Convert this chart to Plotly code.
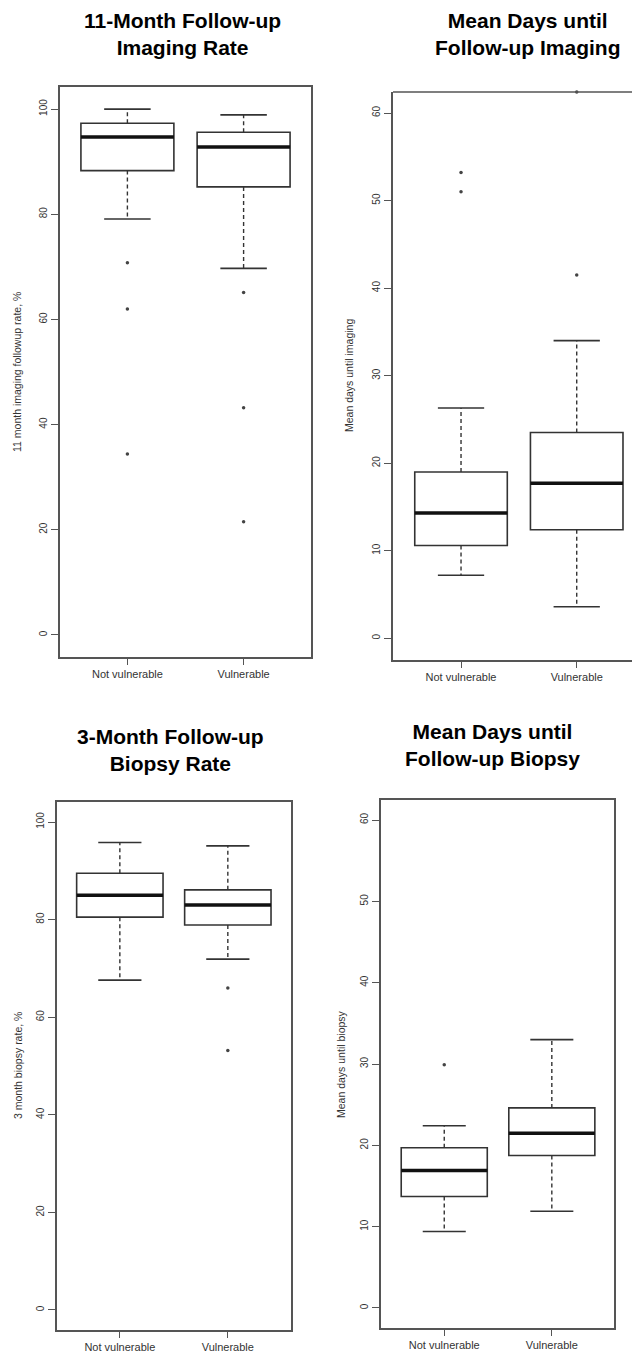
import plotly.graph_objects as go

# the page body adds an 8px margin, so pixel positions are shifted by OFF
OFF = 8
W, H = 640 - OFF, 1359 - OFF

categories = ["Not vulnerable", "Vulnerable"]
cat_pos = [1, 2]

# Panel 1: 11-month follow-up imaging rate (%)
img_rate_lower = [79.1, 69.7]
img_rate_q1 = [88.3, 85.2]
img_rate_median = [94.7, 92.8]
img_rate_q3 = [97.3, 95.6]
img_rate_upper = [100.0, 98.9]
img_rate_out_nv = [70.8, 62.0, 34.4]
img_rate_out_v = [65.1, 43.2, 21.5]

# Panel 2: mean days until follow-up imaging
img_days_lower = [7.2, 3.6]
img_days_q1 = [10.6, 12.4]
img_days_median = [14.3, 17.7]
img_days_q3 = [19.0, 23.5]
img_days_upper = [26.3, 34.0]
img_days_out_nv = [53.2, 51.0]
img_days_out_v = [41.5, 62.4]

# Panel 3: 3-month follow-up biopsy rate (%)
bx_rate_lower = [67.6, 71.9]
bx_rate_q1 = [80.5, 78.9]
bx_rate_median = [85.0, 83.0]
bx_rate_q3 = [89.5, 86.1]
bx_rate_upper = [95.8, 95.1]
bx_rate_out_nv = []
bx_rate_out_v = [66.0, 53.2]

# Panel 4: mean days until follow-up biopsy
bx_days_lower = [9.4, 11.9]
bx_days_q1 = [13.7, 18.75]
bx_days_median = [16.9, 21.5]
bx_days_q3 = [19.7, 24.6]
bx_days_upper = [22.4, 33.0]
bx_days_out_nv = [29.9]
bx_days_out_v = []

titles = ["11-Month Follow-up<br>Imaging Rate", "Mean Days until<br>Follow-up Imaging",
          "3-Month Follow-up<br>Biopsy Rate", "Mean Days until<br>Follow-up Biopsy"]
ytitles = ["11 month imaging followup rate, %", "Mean days until imaging",
           "3 month biopsy rate, %", "Mean days until biopsy"]
yticks_rate = [0, 20, 40, 60, 80, 100]
yticks_days = [0, 10, 20, 30, 40, 50, 60]

panels = [
    dict(lower=img_rate_lower, q1=img_rate_q1, med=img_rate_median, q3=img_rate_q3, upper=img_rate_upper,
         out=[img_rate_out_nv, img_rate_out_v], ticks=yticks_rate,
         px=(60, 311), py=(87, 657), xr=[0.42, 2.58], yr=[-4.2, 104.2],
         title_xy=(183, 34), ytitle_x=17, clip_right=False),
    dict(lower=img_days_lower, q1=img_days_q1, med=img_days_median, q3=img_days_q3, upper=img_days_upper,
         out=[img_days_out_nv, img_days_out_v], ticks=yticks_days,
         px=(393, 640), py=(92, 660), xr=[0.412, 2.547], yr=[-2.48, 62.4],
         title_xy=(527, 34), ytitle_x=349, clip_right=True),
    dict(lower=bx_rate_lower, q1=bx_rate_q1, med=bx_rate_median, q3=bx_rate_q3, upper=bx_rate_upper,
         out=[bx_rate_out_nv, bx_rate_out_v], ticks=yticks_rate,
         px=(57, 291), py=(802, 1330), xr=[0.418, 2.585], yr=[-4.1, 104.1],
         title_xy=(170, 750), ytitle_x=18, clip_right=False),
    dict(lower=bx_days_lower, q1=bx_days_q1, med=bx_days_median, q3=bx_days_q3, upper=bx_days_upper,
         out=[bx_days_out_nv, bx_days_out_v], ticks=yticks_days,
         px=(381, 614), py=(800, 1328), xr=[0.412, 2.578], yr=[-2.46, 62.46],
         title_xy=(492, 745), ytitle_x=341, clip_right=False),
]

LINE = "#333333"
FRAME = "#555555"
BOX_W = 0.8
CAP_HALF = 0.2

fig = go.Figure()
layout = dict(width=W, height=H, margin=dict(l=0, r=0, t=0, b=0),
              paper_bgcolor="white", plot_bgcolor="white", showlegend=False,
              font=dict(family="Liberation Sans, Arial, sans-serif", color="#333333"))
annotations = []
shapes = []


def fx(px):
    return (px - OFF) / W


def fy(py):
    return 1 - (py - OFF) / H


for i, p in enumerate(panels):
    n = i + 1
    xa = "x" if n == 1 else f"x{n}"
    ya = "y" if n == 1 else f"y{n}"
    xkey = "xaxis" if n == 1 else f"xaxis{n}"
    ykey = "yaxis" if n == 1 else f"yaxis{n}"

    # box body (whiskers drawn separately, dashed)
    fig.add_trace(go.Box(x=cat_pos, q1=p["q1"], median=p["med"], q3=p["q3"],
                         lowerfence=p["q1"], upperfence=p["q3"], width=BOX_W,
                         fillcolor="white", line=dict(color=LINE, width=1.6),
                         boxpoints=False, hoverinfo="skip", xaxis=xa, yaxis=ya))
    # dashed whiskers
    wx, wy = [], []
    for c, lo, q1, q3, up in zip(cat_pos, p["lower"], p["q1"], p["q3"], p["upper"]):
        wx += [c, c, None, c, c, None]
        wy += [q3, up, None, q1, lo, None]
    fig.add_trace(go.Scatter(x=wx, y=wy, mode="lines", line=dict(color=LINE, width=1.4, dash="4px,3px"),
                             hoverinfo="skip", xaxis=xa, yaxis=ya))
    # caps
    cx, cy = [], []
    for c, lo, up in zip(cat_pos, p["lower"], p["upper"]):
        cx += [c - CAP_HALF, c + CAP_HALF, None, c - CAP_HALF, c + CAP_HALF, None]
        cy += [up, up, None, lo, lo, None]
    fig.add_trace(go.Scatter(x=cx, y=cy, mode="lines", line=dict(color=LINE, width=1.6),
                             hoverinfo="skip", xaxis=xa, yaxis=ya))
    # thick medians
    mx, my = [], []
    for c, m in zip(cat_pos, p["med"]):
        mx += [c - BOX_W / 2, c + BOX_W / 2, None]
        my += [m, m, None]
    fig.add_trace(go.Scatter(x=mx, y=my, mode="lines", line=dict(color="#111111", width=3.5),
                             hoverinfo="skip", xaxis=xa, yaxis=ya))
    # outliers
    ox, oy = [], []
    for c, vals in zip(cat_pos, p["out"]):
        ox += [c] * len(vals)
        oy += list(vals)
    fig.add_trace(go.Scatter(x=ox, y=oy, mode="markers", marker=dict(color="#444444", size=3.5),
                             hoverinfo="skip", cliponaxis=False, xaxis=xa, yaxis=ya))

    x0, x1 = p["px"]
    y0, y1 = p["py"]
    layout[xkey] = dict(domain=[fx(x0), min(1.0, fx(x1))], range=p["xr"], anchor=ya,
                        tickmode="array", tickvals=cat_pos, ticktext=categories,
                        ticks="outside", ticklen=6, tickwidth=1.2, tickcolor=FRAME,
                        showline=True, linecolor=FRAME, linewidth=1.6,
                        mirror=False if p["clip_right"] else True,
                        showgrid=False, zeroline=False, fixedrange=True,
                        tickfont=dict(size=11, color="#333333"))
    layout[ykey] = dict(domain=[fy(y1), fy(y0)], range=p["yr"], anchor=xa,
                        tickmode="array", tickvals=p["ticks"], tickangle=-90,
                        ticks="outside", ticklen=7, tickwidth=1.2, tickcolor=FRAME,
                        showline=True, linecolor=FRAME, linewidth=1.6,
                        mirror=True if not p["clip_right"] else False,
                        showgrid=False, zeroline=False, fixedrange=True,
                        tickfont=dict(size=10, color="#333333"))
    if p["clip_right"]:
        shapes.append(dict(type="line", xref=f"{xa} domain", yref=f"{ya} domain",
                           x0=0, x1=1.05, y0=1, y1=1, line=dict(color=FRAME, width=1.6)))

    tx, ty = p["title_xy"]
    annotations.append(dict(text=f"<b>{titles[i]}</b>", x=fx(tx), y=fy(ty), xref="paper", yref="paper",
                            xanchor="center", yanchor="middle", showarrow=False, align="center",
                            font=dict(size=21, color="black", family="Liberation Sans, Arial, sans-serif")))
    annotations.append(dict(text=ytitles[i], x=fx(p["ytitle_x"]), y=fy((y0 + y1) / 2),
                            xref="paper", yref="paper", xanchor="center", yanchor="middle",
                            textangle=-90, showarrow=False,
                            font=dict(size=10.5, color="#333333")))

layout["annotations"] = annotations
layout["shapes"] = shapes
fig.update_layout(**layout)
fig.write_html("out.html")
